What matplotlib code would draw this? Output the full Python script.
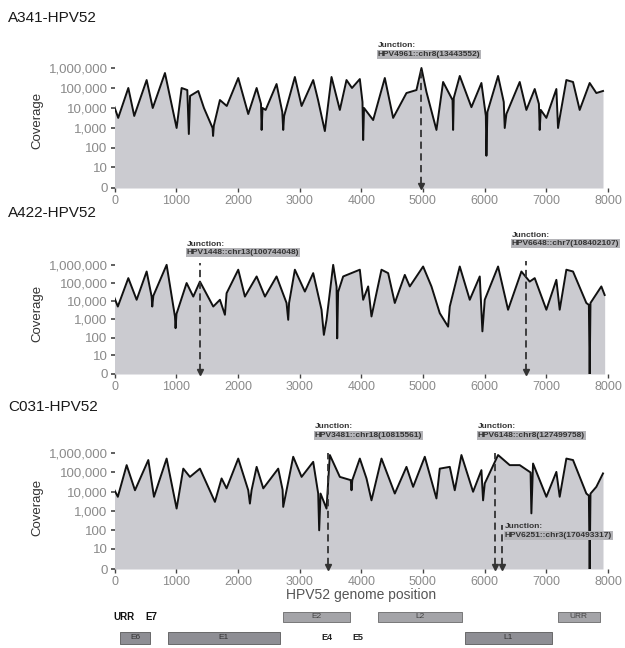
import numpy as np
import matplotlib
matplotlib.use("Agg")
import matplotlib.pyplot as plt
import matplotlib.transforms as mtransforms

plt.rcParams['font.family'] = ['Liberation Sans', 'DejaVu Sans']

# coverage traces (genome position, read depth)
pos1 = [0, 60, 224, 320, 521, 620, 818, 1007, 1088, 1180, 1205, 1225, 1358, 1450, 1590, 1598, 1610, 1709, 1820, 2006,
        2168, 2304, 2375, 2385, 2400, 2450, 2627, 2720, 2735, 2750, 2924, 3033, 3221, 3300, 3410, 3518, 3653, 3761, 3850, 3977,
        4020, 4031, 4045, 4193, 4382, 4517, 4733, 4895, 4976, 5057, 5219, 5327, 5480, 5489, 5500, 5597, 5786, 5948, 6020, 6029,
        6045, 6218, 6310, 6326, 6353, 6569, 6677, 6812, 6880, 6893, 6910, 7001, 7163, 7190, 7217, 7325, 7433, 7541, 7703, 7811,
        7919]
cov1 = [11000, 3200, 100000, 4000, 250000, 10000, 560000, 1000, 100000, 79000, 500, 40000, 71000, 10000, 1000, 400, 1300, 25000, 12600, 316000,
        5000, 100000, 16000, 800, 10000, 8000, 158000, 6300, 800, 4000, 355000, 12600, 250000, 25000, 700, 355000, 8000, 250000, 100000, 280000,
        20000, 250, 10000, 2500, 316000, 3200, 56000, 79000, 1000000, 63000, 800, 200000, 25000, 800, 32000, 400000, 11000, 178000, 4000, 40,
        6300, 400000, 20000, 1000, 5000, 200000, 8000, 89000, 16000, 800, 8000, 3200, 89000, 1000, 3200, 250000, 200000, 8000, 178000, 56000,
        71000]

pos2 = [0, 54, 224, 359, 521, 602, 612, 630, 845, 980, 990, 1005, 1169, 1277, 1385, 1601, 1709, 1790, 1817, 2006,
        2114, 2304, 2439, 2627, 2789, 2816, 2830, 2924, 3086, 3221, 3356, 3394, 3437, 3545, 3600, 3610, 3625, 3707, 3977, 4031,
        4112, 4166, 4328, 4436, 4544, 4706, 4787, 5003, 5138, 5273, 5408, 5435, 5597, 5759, 5921, 5964, 6002, 6218, 6380, 6596,
        6731, 6812, 7001, 7163, 7217, 7325, 7433, 7649, 7690, 7703, 7716, 7784, 7892, 7946]
cov2 = [15000, 5100, 186000, 12000, 430000, 18000, 5100, 20000, 1000000, 1450, 330, 2000, 100000, 18000, 120000, 5100, 12000, 1800, 27500, 540000,
        18000, 230000, 18000, 230000, 8000, 950, 8000, 540000, 34000, 350000, 3400, 140, 950, 1000000, 63000, 90, 32000, 230000, 540000, 12000,
        65000, 1450, 540000, 350000, 8000, 280000, 65000, 810000, 65000, 2200, 400, 5100, 810000, 12000, 230000, 220, 12000, 810000, 3400, 430000,
        120000, 186000, 3400, 150000, 3400, 540000, 430000, 8000, 6300, 0, 8000, 18000, 65000, 22000]

pos3 = [0, 54, 197, 332, 548, 640, 845, 1007, 1115, 1223, 1385, 1628, 1736, 1817, 2006, 2168, 2195, 2222, 2304, 2412,
        2654, 2725, 2735, 2789, 2897, 3033, 3221, 3302, 3318, 3340, 3437, 3491, 3653, 3830, 3842, 3855, 3977, 4085, 4166, 4328,
        4544, 4733, 4841, 5030, 5219, 5273, 5435, 5516, 5624, 5813, 5948, 5975, 6002, 6218, 6407, 6569, 6745, 6758, 6785, 7001,
        7163, 7217, 7325, 7433, 7649, 7690, 7703, 7716, 7811, 7919]
cov3 = [12000, 5500, 240000, 12000, 440000, 5500, 525000, 1350, 158000, 59000, 158000, 3000, 49000, 15000, 525000, 12000, 2450, 12000, 195000, 15000,
        158000, 12600, 1650, 12000, 650000, 59000, 355000, 8100, 100, 8100, 1350, 800000, 59000, 40000, 12000, 40000, 525000, 49000, 3600, 525000,
        8100, 195000, 18000, 650000, 4500, 158000, 195000, 12000, 800000, 10000, 132000, 3600, 27000, 800000, 240000, 240000, 100000, 760, 290000, 5500,
        107000, 5500, 525000, 440000, 8100, 6300, 0, 8000, 18000, 89000]

samples = ['A341-HPV52', 'A422-HPV52', 'C031-HPV52']

# junctions: (break position, label, label x, label height, dashed line top) - heights as axes fraction
junc1 = [(4976, 'HPV4961::chr8(13443552)', 4268, 1.07, 0.96)]
junc2 = [(1385, 'HPV1448::chr13(100744048)', 1175, 1.06, 0.98),
         (6677, 'HPV6648::chr7(108402107)', 6440, 1.14, 1.0)]
junc3 = [(3464, 'HPV3481::chr18(10815561)', 3248, 1.1, 0.97),
         (6164, 'HPV6148::chr8(127499758)', 5888, 1.1, 0.97),
         (6288, 'HPV6251::chr3(170493317)', 6325, 0.27, 0.37)]

yticks = [0, 10, 100, 1000, 10000, 100000, 1000000]
ytick_labels = ['0', '10', '100', '1,000', '10,000', '100,000', '1,000,000']
xticks = [0, 1000, 2000, 3000, 4000, 5000, 6000, 7000, 8000]

# genome map
genes_top = [('E2', 2730, 3815), ('L2', 4269, 5629), ('URR', 7184, 7865)]
genes_bot = [('E6', 89, 575), ('E1', 867, 2681), ('L1', 5678, 7088)]
plain_top = [('URR', 150), ('E7', 600)]
plain_bot = [('E4', 3443), ('E5', 3945)]


def fwd(v):
    return np.log10(np.clip(np.asarray(v, dtype=float), 0, None) + 1)


def inv(u):
    return 10 ** np.asarray(u, dtype=float) - 1


def draw_panel(ax, pos, cov, juncs, top):
    ax.set_yscale('function', functions=(fwd, inv))
    ax.fill_between(pos, 0, cov, color='#cbcbd0', lw=0)
    ax.plot(pos, cov, color='#111111', lw=1.4)
    ax.set_xlim(0, 8000)
    ax.set_ylim(0, inv(top))
    ax.set_yticks(yticks)
    ax.set_yticklabels(ytick_labels)
    ax.set_xticks(xticks)
    ax.set_xticklabels([str(t) for t in xticks])
    for s in ax.spines.values():
        s.set_visible(False)
    ax.tick_params(axis='y', length=3, width=1.2, color='#444444', labelsize=9.5,
                   labelcolor='#8a8a8a', pad=2)
    ax.tick_params(axis='x', length=3, width=1.0, color='#444444', labelsize=9,
                   labelcolor='#8a8a8a', pad=2)
    trans = mtransforms.blended_transform_factory(ax.transData, ax.transAxes)
    for p, lab, lx, ly, ltop in juncs:
        ax.plot([p, p], [0.03, ltop], transform=trans, color='#333333', lw=1.3,
                ls=(0, (4, 2.5)), clip_on=False)
        ax.plot([p], [0.02], transform=trans, marker='v', ms=4, color='#333333', clip_on=False)
        ax.text(lx, ly + 0.075, 'Junction:', transform=trans, fontsize=6, fontweight='bold',
                color='#333333', clip_on=False)
        ax.text(lx, ly, lab, transform=trans, fontsize=6, fontweight='bold', color='#333333',
                clip_on=False, bbox=dict(boxstyle='square,pad=0.12', fc='#b4b4b8', ec='none'))


fig = plt.figure(figsize=(6.25, 6.48), dpi=100)
W, H = 625.0, 648.0
left = 114.5 / W
width = (608 - 114.5) / W

ax1 = fig.add_axes([left, 1 - 188 / H, width, 123 / H])
ax2 = fig.add_axes([left, 1 - 374 / H, width, 112.8 / H])
ax3 = fig.add_axes([left, 1 - 569 / H, width, 119.7 / H])
draw_panel(ax1, pos1, cov1, junc1, 6.15)
draw_panel(ax2, pos2, cov2, junc2, 6.2)
draw_panel(ax3, pos3, cov3, junc3, 6.2)
ax3.set_xlabel('HPV52 genome position', fontsize=10, color='#555555', labelpad=0)

for name, ty, cy in zip(samples, [18, 213, 407], [120, 313, 507]):
    fig.text(8 / W, 1 - ty / H, name, fontsize=11, va='center', ha='left', color='#1a1a1a')
    fig.text(37 / W, 1 - cy / H, 'Coverage', fontsize=9.5, rotation=90, va='center',
             ha='center', color='#333333')

axm = fig.add_axes([left, 1 - 646 / H, width, 37 / H])
axm.set_xlim(0, 8000)
axm.set_ylim(0, 1)
axm.axis('off')
for lab, a, b in genes_top:
    axm.broken_barh([(a, b - a)], (0.65, 0.27), facecolors='#a4a4a8', edgecolors='#6a6a6a', lw=0.6)
    axm.text((a + b) / 2, 0.785, lab, fontsize=6, ha='center', va='center', color='#444444')
for lab, a, b in genes_bot:
    axm.broken_barh([(a, b - a)], (0.06, 0.32), facecolors='#8e8e94', edgecolors='#5a5a5a', lw=0.6)
    axm.text((a + b) / 2, 0.22, lab, fontsize=6, ha='center', va='center', color='#333333')
for lab, x in plain_top:
    axm.text(x, 0.785, lab, fontsize=7, ha='center', va='center', fontweight='bold', color='#111111')
for lab, x in plain_bot:
    axm.text(x, 0.22, lab, fontsize=6.5, ha='center', va='center', fontweight='bold', color='#222222')

fig.savefig('out.png', dpi=100)
